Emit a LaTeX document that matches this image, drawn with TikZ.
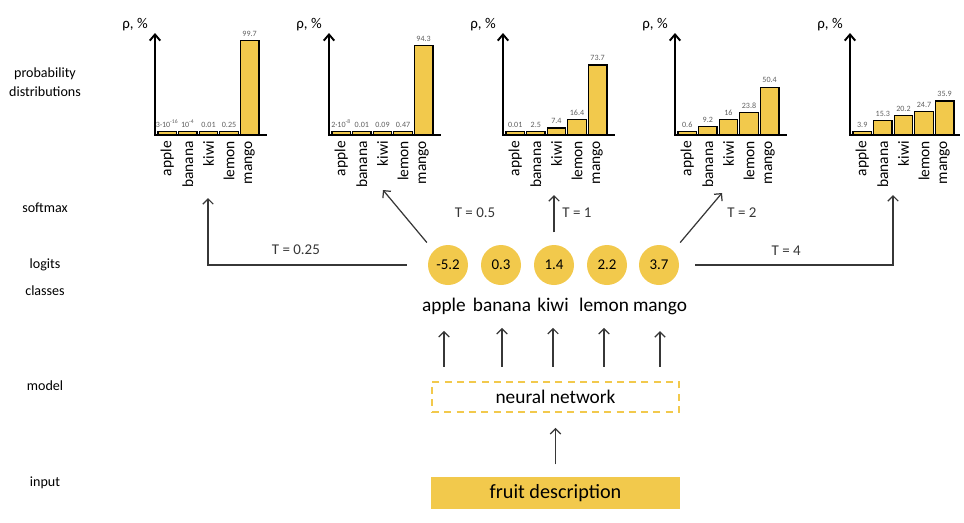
\documentclass[tikz,border=0pt]{standalone}
\usepackage{fontspec}
\setmainfont{Carlito}
\usetikzlibrary{arrows.meta}

\definecolor{mango}{RGB}{242,201,76}
\definecolor{ink}{RGB}{55,55,55}
\definecolor{numgray}{RGB}{95,95,95}

\begin{document}
\begin{tikzpicture}[
    x=0.02cm, y=-0.02cm,
    %% Popisy riadkov vľavo
    rowlbl/.style={font=\fontsize{8}{11}\selectfont, align=center},
    %% Osi grafov
    axis/.style={line width=1.1pt, -{Straight Barb[length=3.5pt, width=6pt]}},
    baseln/.style={line width=1.1pt},
    bar/.style={draw=black, line width=0.7pt, fill=mango},
    clslbl/.style={font=\fontsize{8.8}{10}\selectfont, rotate=90, anchor=east, inner sep=1pt},
    vallbl/.style={font=\fontsize{4.6}{5}\selectfont, numgray, anchor=south, inner sep=1pt},
    plbl/.style={font=\fontsize{8.5}{9}\selectfont},
    %% Logity a triedy
    logit/.style={circle, fill=mango, minimum size=0.8cm, inner sep=0pt,
        font=\fontsize{8.5}{10}\selectfont},
    clsname/.style={font=\fontsize{11}{13}\selectfont, anchor=base},
    %% Spojnice
    conn/.style={draw=ink, line width=0.7pt, -{Straight Barb[length=3pt, width=6pt]}},
    tlbl/.style={font=\fontsize{8.5}{10}\selectfont, ink},
    %% Model a vstup
    nnbox/.style={draw=mango, line width=1.1pt, dash pattern=on 4pt off 3pt,
        minimum width=4.94cm, minimum height=0.6cm, font=\fontsize{11}{13}\selectfont},
    fruitbox/.style={fill=mango, minimum width=4.98cm, minimum height=0.64cm,
        font=\fontsize{11.5}{13}\selectfont}
]
\useasboundingbox (0,0) rectangle (964,522);

%% ══════════════════════════════════════════════════════════════════
%% Popisy riadkov
%% ══════════════════════════════════════════════════════════════════
\node[rowlbl] (r-prob) at (45,82) {probability\\distributions};
\node[rowlbl] (r-soft) at (45,208) {softmax};
\node[rowlbl] (r-logit) at (45,265) {logits};
\node[rowlbl] (r-cls) at (45,291) {classes};
\node[rowlbl] (r-model) at (45,386) {model};
\node[rowlbl] (r-input) at (45,483) {input};

%% ══════════════════════════════════════════════════════════════════
%% Graf 1 — T = 0.25
%% ══════════════════════════════════════════════════════════════════
\begin{scope}[shift={(155,135)}]
    \draw[axis] (0,0) -- (0,-102);
    \draw[baseln] (-1,0) -- (112,0);
    \node[plbl] (p1) at (-20,-110) {ρ, \%};
    \foreach \i/\v/\t/\c in {0/0/{3·10\textsuperscript{-16}}/apple, 1/0/{10\textsuperscript{-4}}/banana,
                             2/0.01/0.01/kiwi, 3/0.25/0.25/lemon, 4/99.7/99.7/mango} {
        \pgfmathsetmacro{\h}{max(3.5,0.95*\v)}
        \draw[bar] (3+20.6*\i,0) rectangle (21.5+20.6*\i,-\h);
        \node[vallbl] (a-v\i) at (12.25+20.6*\i,-\h-2) {\t};
        \node[clslbl] (a-c\i) at (12.25+20.6*\i,4) {\c};
    }
\end{scope}

%% ══════════════════════════════════════════════════════════════════
%% Graf 2 — T = 0.5
%% ══════════════════════════════════════════════════════════════════
\begin{scope}[shift={(329,135)}]
    \draw[axis] (0,0) -- (0,-102);
    \draw[baseln] (-1,0) -- (112,0);
    \node[plbl] (p2) at (-20,-110) {ρ, \%};
    \foreach \i/\v/\t/\c in {0/0/{2·10\textsuperscript{-8}}/apple, 1/0.01/0.01/banana,
                             2/0.09/0.09/kiwi, 3/0.47/0.47/lemon, 4/94.3/94.3/mango} {
        \pgfmathsetmacro{\h}{max(3.5,0.95*\v)}
        \draw[bar] (3+20.6*\i,0) rectangle (21.5+20.6*\i,-\h);
        \node[vallbl] (b-v\i) at (12.25+20.6*\i,-\h-2) {\t};
        \node[clslbl] (b-c\i) at (12.25+20.6*\i,4) {\c};
    }
\end{scope}

%% ══════════════════════════════════════════════════════════════════
%% Graf 3 — T = 1
%% ══════════════════════════════════════════════════════════════════
\begin{scope}[shift={(503,135)}]
    \draw[axis] (0,0) -- (0,-102);
    \draw[baseln] (-1,0) -- (112,0);
    \node[plbl] (p3) at (-20,-110) {ρ, \%};
    \foreach \i/\v/\t/\c in {0/0.01/0.01/apple, 1/2.5/2.5/banana,
                             2/7.4/7.4/kiwi, 3/16.4/16.4/lemon, 4/73.7/73.7/mango} {
        \pgfmathsetmacro{\h}{max(3.5,0.95*\v)}
        \draw[bar] (3+20.6*\i,0) rectangle (21.5+20.6*\i,-\h);
        \node[vallbl] (c-v\i) at (12.25+20.6*\i,-\h-2) {\t};
        \node[clslbl] (c-c\i) at (12.25+20.6*\i,4) {\c};
    }
\end{scope}

%% ══════════════════════════════════════════════════════════════════
%% Graf 4 — T = 2
%% ══════════════════════════════════════════════════════════════════
\begin{scope}[shift={(675,135)}]
    \draw[axis] (0,0) -- (0,-102);
    \draw[baseln] (-1,0) -- (112,0);
    \node[plbl] (p4) at (-20,-110) {ρ, \%};
    \foreach \i/\v/\t/\c in {0/0.6/0.6/apple, 1/9.2/9.2/banana,
                             2/16/16/kiwi, 3/23.8/23.8/lemon, 4/50.4/50.4/mango} {
        \pgfmathsetmacro{\h}{max(3.5,0.95*\v)}
        \draw[bar] (3+20.6*\i,0) rectangle (21.5+20.6*\i,-\h);
        \node[vallbl] (d-v\i) at (12.25+20.6*\i,-\h-2) {\t};
        \node[clslbl] (d-c\i) at (12.25+20.6*\i,4) {\c};
    }
\end{scope}

%% ══════════════════════════════════════════════════════════════════
%% Graf 5 — T = 4
%% ══════════════════════════════════════════════════════════════════
\begin{scope}[shift={(850,135)}]
    \draw[axis] (0,0) -- (0,-102);
    \draw[baseln] (-1,0) -- (110,0);
    \node[plbl] (p5) at (-20,-110) {ρ, \%};
    \foreach \i/\v/\t/\c in {0/3.9/3.9/apple, 1/15.3/15.3/banana,
                             2/20.2/20.2/kiwi, 3/24.7/24.7/lemon, 4/35.9/35.9/mango} {
        \pgfmathsetmacro{\h}{max(3.5,0.95*\v)}
        \draw[bar] (3+20.6*\i,0) rectangle (21.5+20.6*\i,-\h);
        \node[vallbl] (e-v\i) at (12.25+20.6*\i,-\h-2) {\t};
        \node[clslbl] (e-c\i) at (12.25+20.6*\i,4) {\c};
    }
\end{scope}

%% ══════════════════════════════════════════════════════════════════
%% Logity, triedy, model, vstup
%% ══════════════════════════════════════════════════════════════════
\foreach \n/\x/\z in {1/448/-5.2, 2/501/0.3, 3/554/1.4, 4/607/2.2, 5/659/3.7} {
    \node[logit] (l\n) at (\x,265) {\z};
}
\foreach \n/\x/\c in {1/444/apple, 2/502/banana, 3/553/kiwi, 4/604/lemon, 5/660/mango} {
    \node[clsname] (c\n) at (\x,311) {\c};
}
\node[nnbox] (nn) at (555.5,397) {neural network};
\node[fruitbox] (fd) at (555.5,493) {fruit description};

%% Šípky model -> triedy
\foreach \n in {1,...,5} {
    \draw[conn, shorten <=8pt, shorten >=6pt] (nn.north -| c\n) -- (c\n.south);
}
\draw[conn, shorten <=7pt, shorten >=8.5pt] (fd.north) -- (nn.south);

%% ══════════════════════════════════════════════════════════════════
%% Softmax pri rôznych teplotách
%% ══════════════════════════════════════════════════════════════════
\coordinate (in1) at (208,198);
\coordinate (in2) at (383,190);
\coordinate (in3) at (554,195);
\coordinate (in4) at (722,193);
\coordinate (in5) at (893,195);

\draw[conn, shorten <=12pt] (l1.west) -| (in1)
    node[tlbl, pos=0.3, above=2pt] {T = 0.25};
\draw[conn, shorten <=6pt] (l1.north west) -- (in2);
\draw[conn, shorten <=7pt] (l3.north) -- (in3);
\draw[conn, shorten <=6pt] (l5.north east) -- (in4);
\draw[conn, shorten <=9pt] (l5.east) -| (in5)
    node[tlbl, pos=0.25, above=2pt] {T = 4};

\node[tlbl] (t2) at (475,213) {T = 0.5};
\node[tlbl] (t3) at (577,213) {T = 1};
\node[tlbl] (t4) at (742,213) {T = 2};

\end{tikzpicture}
\end{document}
